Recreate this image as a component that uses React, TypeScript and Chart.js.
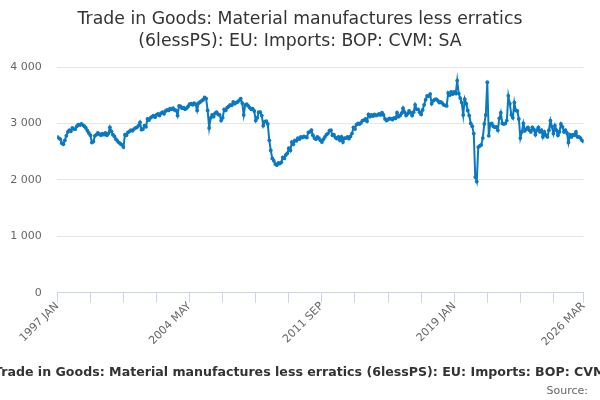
import React, { useEffect, useRef } from "react";
import { Chart, registerables } from "chart.js";

Chart.register(...registerables);

const TITLE_LINES = [
  "Trade in Goods: Material manufactures less erratics",
  "(6lessPS): EU: Imports: BOP: CVM: SA",
];
const CAPTION =
  "Trade in Goods: Material manufactures less erratics (6lessPS): EU: Imports: BOP: CVM: SA";
const SOURCE = "Source:";

const START_YEAR = 1997;
const MONTHS = ["JAN", "FEB", "MAR", "APR", "MAY", "JUN", "JUL", "AUG", "SEP", "OCT", "NOV", "DEC"];

// Monthly values, Jan 1997 – Mar 2026 (£ million)
const VALUES = [
  // 1997
  2760, 2740, 2720, 2650, 2630, 2700, 2780, 2850, 2880, 2860, 2920, 2900,
  // 1998
  2900, 2950, 2980, 2970, 2990, 2970, 2950, 2920, 2870, 2830, 2790, 2660,
  // 1999
  2680, 2780, 2800, 2830, 2810, 2790, 2820, 2800, 2830, 2790, 2820, 2930,
  // 2000
  2860, 2800, 2770, 2720, 2690, 2660, 2640, 2620, 2580, 2800, 2790, 2840,
  // 2001
  2860, 2880, 2870, 2900, 2920, 2930, 2960, 3020, 2890, 2900, 2960, 2940,
  // 2002
  3080, 3060, 3100, 3120, 3140, 3110, 3150, 3170, 3140, 3180, 3200, 3170,
  // 2003
  3220, 3240, 3230, 3260, 3250, 3270, 3240, 3230, 3140, 3310, 3300, 3270,
  // 2004
  3280, 3250, 3270, 3300, 3340, 3350, 3330, 3360, 3340, 3230, 3360, 3380,
  // 2005
  3400, 3420, 3460, 3440, 3230, 2920, 3100, 3150, 3120, 3180, 3200, 3160,
  // 2006
  3150, 3050, 3100, 3250, 3230, 3280, 3300, 3330, 3320, 3380, 3350, 3370,
  // 2007
  3380, 3410, 3440, 3360, 3150, 3330, 3340, 3310, 3280, 3250, 3260, 3220,
  // 2008
  3050, 3100, 3200, 3200, 3140, 2960, 3030, 3040, 2990, 2700, 2520, 2380,
  // 2009
  2340, 2280, 2260, 2300, 2290, 2310, 2400, 2380, 2440, 2470, 2560, 2520,
  // 2010
  2670, 2630, 2700, 2690, 2740, 2720, 2760, 2750, 2770, 2760, 2750, 2840,
  // 2011
  2850, 2880, 2790, 2740, 2720, 2760, 2740, 2700, 2670, 2720, 2760, 2800,
  // 2012
  2820, 2870, 2880, 2790, 2800, 2750, 2730, 2760, 2700, 2760, 2670, 2740,
  // 2013
  2740, 2760, 2730, 2770, 2820, 2930, 2900, 2980, 3000, 2990, 3010, 3050,
  // 2014
  3060, 3080, 3040, 3160, 3120, 3150, 3130, 3160, 3140, 3150, 3170, 3150,
  // 2015
  3190, 3150, 3080, 3050, 3070, 3090, 3080, 3070, 3100, 3090, 3190, 3120,
  // 2016
  3140, 3180, 3270, 3200, 3140, 3170, 3220, 3190, 3140, 3200, 3330, 3250,
  // 2017
  3250, 3200, 3160, 3240, 3330, 3420, 3490, 3480, 3520, 3350, 3400, 3420,
  // 2018
  3430, 3410, 3370, 3380, 3360, 3330, 3320, 3310, 3540, 3500, 3560, 3520,
  // 2019
  3560, 3530, 3760, 3530, 3450, 3370, 3150, 3430, 3350, 3230, 3140, 3000,
  // 2020
  2950, 2820, 2050, 1970, 2580, 2600, 2620, 2740, 2990, 3150, 3730, 2780,
  // 2021
  2990, 3000, 2950, 2930, 2940, 2880, 3090, 3190, 3000, 2990, 3000, 3050,
  // 2022
  3490, 3350, 3150, 3100, 3370, 3230, 3220, 3080, 2740, 2850, 3000, 2870,
  // 2023
  2900, 2930, 2880, 2850, 2930, 2890, 2800, 2880, 2930, 2850, 2880, 2760,
  // 2024
  2850, 2790, 2760, 2880, 3050, 2940, 2820, 2960, 2880, 2790, 2850, 2990,
  // 2025
  2940, 2850, 2880, 2830, 2660, 2800, 2760, 2800, 2790, 2850, 2760, 2760,
  // 2026
  2740, 2700, 2680,
];

const TICK_EVERY = 22; // months between tick marks
const LABEL_EVERY = 88; // months between labelled ticks
const Y_TICKS = [0, 1000, 2000, 3000, 4000];

const FONT = "'DejaVu Sans', sans-serif";
const LINE_COLOR = "#0a79c2";

function periodLabel(i: number): string {
  return `${START_YEAR + Math.floor(i / 12)} ${MONTHS[i % 12]}`;
}

function fmtThousands(v: number): string {
  return String(v).replace(/\B(?=(\d{3})+(?!\d))/g, " ");
}

const textPlugin = {
  id: "textDecor",
  afterDraw(chart: any) {
    const ctx = chart.ctx;
    ctx.save();
    ctx.fillStyle = "#333333";
    ctx.textAlign = "center";
    ctx.textBaseline = "middle";
    ctx.font = `17.3px ${FONT}`;
    ctx.fillText(TITLE_LINES[0], 300, 20);
    ctx.fillText(TITLE_LINES[1], 300, 42);

    ctx.font = `bold 12.6px ${FONT}`;
    ctx.textAlign = "left";
    ctx.fillText(CAPTION, -6, 373);

    ctx.font = `11px ${FONT}`;
    ctx.fillStyle = "#666666";
    ctx.textAlign = "right";
    ctx.fillText(SOURCE, 588, 391);
    ctx.restore();
  },
};

export default function App() {
  const canvasRef = useRef<HTMLCanvasElement | null>(null);

  useEffect(() => {
    if (!canvasRef.current) return;
    const last = VALUES.length - 1;
    const tickValues: number[] = [];
    for (let i = 0; i <= last; i += TICK_EVERY) tickValues.push(i);
    if (tickValues[tickValues.length - 1] !== last) tickValues.push(last);

    const chart = new Chart(canvasRef.current, {
      type: "line",
      data: {
        datasets: [
          {
            data: VALUES.map((v, i) => ({ x: i, y: v })),
            borderColor: LINE_COLOR,
            backgroundColor: LINE_COLOR,
            borderWidth: 2,
            pointRadius: 1.9,
            pointBorderWidth: 0,
            pointBackgroundColor: LINE_COLOR,
            tension: 0,
          },
        ],
      },
      options: {
        animation: false,
        responsive: false,
        maintainAspectRatio: false,
        layout: { padding: { top: 67, right: 16.5, left: 0, bottom: 0 } },
        plugins: {
          legend: { display: false },
          title: { display: false },
          tooltip: { enabled: false },
        },
        scales: {
          x: {
            type: "linear",
            min: 0,
            max: last,
            afterBuildTicks: (scale: any) => {
              scale.ticks = tickValues.map((v) => ({ value: v }));
            },
            afterFit: (scale: any) => {
              scale.height = 107.3;
            },
            grid: {
              drawOnChartArea: false,
              drawTicks: true,
              tickLength: 10,
              color: "#ccd6eb",
            },
            border: { display: true, color: "#ccd6eb", width: 1 },
            ticks: {
              autoSkip: false,
              minRotation: 45,
              maxRotation: 45,
              padding: -3,
              color: "#666666",
              font: { family: FONT, size: 11 },
              callback: (value: any) => {
                const v = Number(value);
                return v % LABEL_EVERY === 0 || v === last ? periodLabel(v) : "";
              },
            },
          },
          y: {
            type: "linear",
            min: Y_TICKS[0],
            max: Y_TICKS[Y_TICKS.length - 1],
            afterBuildTicks: (scale: any) => {
              scale.ticks = Y_TICKS.map((v) => ({ value: v }));
            },
            afterFit: (scale: any) => {
              scale.width = 57.3;
            },
            grid: { color: "#e6e6e6", drawTicks: false, lineWidth: 1 },
            border: { display: false },
            ticks: {
              padding: 15.6,
              color: "#666666",
              font: { family: FONT, size: 11 },
              callback: (value: any) => fmtThousands(Number(value)),
            },
          },
        },
      },
      plugins: [textPlugin],
    });
    return () => chart.destroy();
  }, []);

  return (
    <div style={{ position: "absolute", left: 0, top: 0, width: 600, height: 400, background: "#fff" }}>
      <canvas ref={canvasRef} width={600} height={400} style={{ width: 600, height: 400 }} />
    </div>
  );
}
